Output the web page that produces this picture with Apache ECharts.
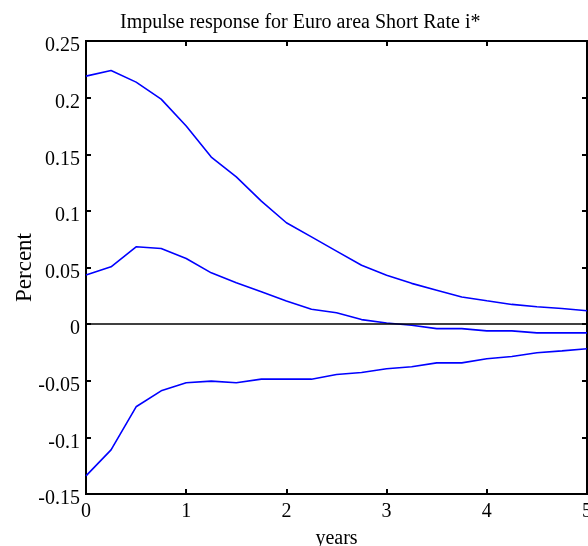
<!DOCTYPE html>
<html>
<head>
<meta charset="utf-8">
<script src="https://cdn.jsdelivr.net/npm/echarts@6/dist/echarts.min.js"></script>
<style>
html,body{margin:0;padding:0;background:#fff;}
#c{width:588px;height:546px;}
</style>
</head>
<body>
<div id="c"></div>
<script>
const years = [0,0.25,0.5,0.75,1,1.25,1.5,1.75,2,2.25,2.5,2.75,3,3.25,3.5,3.75,4,4.25,4.5,4.75,5];
const upperBand = [0.219,0.224,0.2137,0.1987,0.175,0.1475,0.130,0.1086,0.0895,0.077,0.0645,0.052,0.0432,0.036,0.030,0.024,0.0206,0.0174,0.0153,0.0138,0.0118];
const response = [0.0433,0.0506,0.0683,0.0668,0.058,0.0453,0.0365,0.0286,0.0205,0.0132,0.010,0.004,0.001,-0.001,-0.004,-0.004,-0.006,-0.006,-0.0077,-0.0077,-0.0077];
const lowerBand = [-0.134,-0.111,-0.073,-0.0589,-0.0518,-0.0503,-0.0518,-0.0486,-0.0486,-0.0486,-0.0445,-0.0427,-0.0394,-0.0377,-0.0342,-0.0342,-0.0306,-0.0286,-0.0253,-0.0236,-0.0218];
const yTicks = [-0.15,-0.1,-0.05,0,0.05,0.1,0.15,0.2,0.25];

const font = '"Liberation Serif", "Times New Roman", serif';
const pair = arr => years.map((x,i)=>[x,arr[i]]);
const lineSeries = (name, arr) => ({
  name, type:'line', data: pair(arr), symbol:'none', smooth:false,
  lineStyle:{color:'#0000ff', width:1.6}, animation:false, z:3
});
const axisLine = {show:true, onZero:false, lineStyle:{color:'#000', width:2}};
const axisTick = {show:true, inside:true, length:5, lineStyle:{color:'#000', width:2}};

const chart = echarts.init(document.getElementById('c'), null, {renderer:'canvas'});
chart.setOption({
  animation:false,
  backgroundColor:'#fff',
  title:{
    text:'Impulse response for Euro area Short Rate i*',
    left:115, top:8,
    textStyle:{fontFamily:font, fontSize:20, fontWeight:'normal', color:'#000'}
  },
  grid:{left:86, right:1, top:41, bottom:52, show:true, borderColor:'#000', borderWidth:2,
        containLabel:false, outerBoundsMode:'none'},
  xAxis:[{
    type:'value', min:0, max:5, interval:1, position:'bottom',
    name:'years', nameLocation:'middle', nameGap:35, nameMoveOverlap:false,
    nameTextStyle:{fontFamily:font, fontSize:20, color:'#000'},
    axisLine, axisTick,
    axisLabel:{fontFamily:font, fontSize:20, color:'#000', margin:8},
    splitLine:{show:false}
  },{
    type:'value', min:0, max:5, interval:1, position:'top',
    axisLine, axisTick,
    axisLabel:{show:false}, splitLine:{show:false}
  }],
  yAxis:[{
    type:'value', min:-0.15, max:0.25, interval:0.05, position:'left',
    name:'Percent', nameLocation:'middle', nameGap:50, nameRotate:90, nameMoveOverlap:false,
    nameTextStyle:{fontFamily:font, fontSize:23, color:'#000'},
    axisLine, axisTick,
    axisLabel:{fontFamily:font, fontSize:20, color:'#000', margin:6,
      verticalAlign:'top', lineHeight:10,
      formatter: v => String(parseFloat(v.toFixed(2)))},
    splitLine:{show:false}
  },{
    type:'value', min:-0.15, max:0.25, interval:0.05, position:'right',
    axisLine, axisTick,
    axisLabel:{show:false}, splitLine:{show:false}
  }],
  series:[
    lineSeries('upper', upperBand),
    Object.assign(lineSeries('response', response), {
      markLine:{
        silent:true, symbol:['none','none'], label:{show:false},
        lineStyle:{color:'#000', width:1.5, type:'solid'},
        data:[{yAxis:0}], animation:false
      }
    }),
    lineSeries('lower', lowerBand)
  ]
});
</script>
</body>
</html>
